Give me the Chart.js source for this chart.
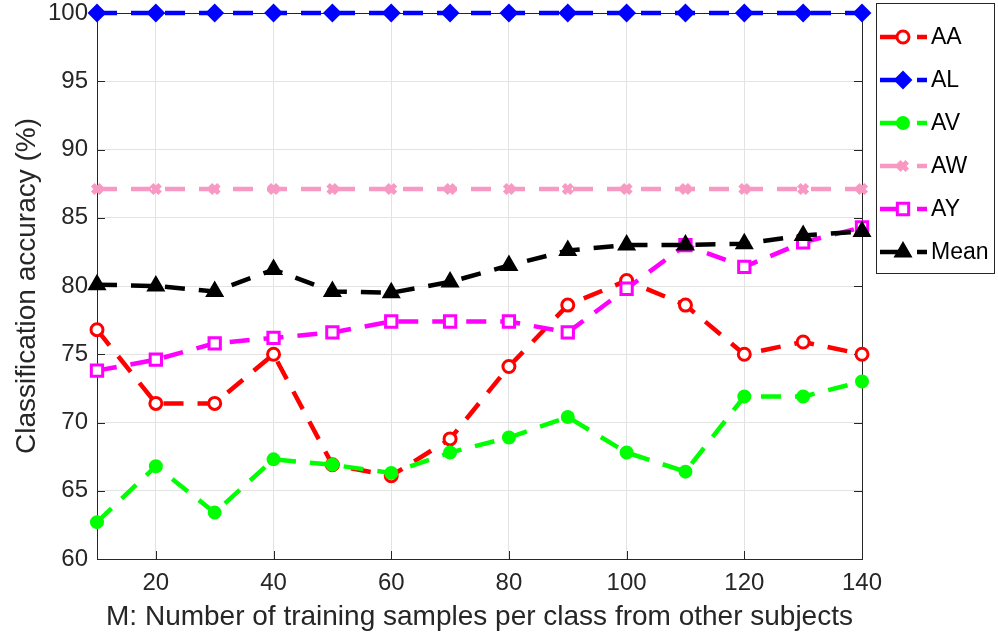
<!DOCTYPE html>
<html>
<head>
<meta charset="utf-8">
<script src="https://cdn.jsdelivr.net/npm/chart.js@4"></script>
<style>
  html, body { margin: 0; padding: 0; background: #fff; }
  #wrap { width: 998px; height: 642px; }
</style>
</head>
<body>
<div id="wrap"><canvas id="accChart" width="998" height="642"></canvas></div>
<script>
// x values (M)
const mValues = [10, 20, 30, 40, 50, 60, 70, 80, 90, 100, 110, 120, 130, 140];
const xTickValues = [20, 40, 60, 80, 100, 120, 140];

// accuracy per subject (%)
const accAA = [76.8, 71.4, 71.4, 75.0, 66.9, 66.1, 68.8, 74.1, 78.6, 80.4, 78.6, 75.0, 75.9, 75.0];
const accAL = [100, 100, 100, 100, 100, 100, 100, 100, 100, 100, 100, 100, 100, 100];
const accAV = [62.7, 66.8, 63.4, 67.3, 66.9, 66.3, 67.8, 68.9, 70.4, 67.8, 66.4, 71.9, 71.9, 73.0];
const accAW = [87.1, 87.1, 87.1, 87.1, 87.1, 87.1, 87.1, 87.1, 87.1, 87.1, 87.1, 87.1, 87.1, 87.1];
const accAY = [73.8, 74.6, 75.8, 76.2, 76.6, 77.4, 77.4, 77.4, 76.6, 79.8, 83.0, 81.4, 83.2, 84.3];
const accMean = [80.1, 80.0, 79.6, 81.2, 79.6, 79.5, 80.3, 81.5, 82.6, 83.0, 83.0, 83.1, 83.7, 84.0];

const textColor = '#262626';
const fontFamily = 'Arial, "Liberation Sans", Helvetica, sans-serif';
const dash = [20, 14];

function toPoints(vals) {
    return vals.map((v, i) => ({ x: mValues[i], y: v }));
}

function makeSet(label, vals, color, style, radius, fill, bw, order) {
    return {
        label: label,
        data: toPoints(vals),
        borderColor: color,
        borderWidth: 4.5,
        borderDash: dash,
        pointStyle: style,
        pointRadius: radius,
        pointBorderWidth: bw,
        pointBorderColor: color,
        pointBackgroundColor: fill,
        pointHoverRadius: radius,
        fill: false,
        tension: 0,
        clip: false,
        order: order
    };
}

const datasets = [
    makeSet('AA', accAA, '#ff0000', 'circle', 6, '#ffffff', 3, 6),
    makeSet('AL', accAL, '#0000ff', 'rectRot', 8, '#0000ff', 2, 5),
    makeSet('AV', accAV, '#00ff00', 'circle', 6, '#00ff00', 2, 4),
    makeSet('AW', accAW, '#f799c2', 'crossRot', 6, '#f799c2', 5, 3),
    makeSet('AY', accAY, '#ff00ff', 'rect', 8, '#ffffff', 3, 2),
    makeSet('Mean', accMean, '#000000', 'triangle', 9, '#000000', 2, 1)
];

// box, inner ticks and legend like the original figure
const framePlugin = {
    id: 'frame',
    beforeDatasetsDraw(chart) {
        const ctx = chart.ctx;
        const a = chart.chartArea;
        const xs = chart.scales.x, ys = chart.scales.y;
        ctx.save();
        ctx.strokeStyle = textColor;
        ctx.lineWidth = 1;
        ctx.setLineDash([]);
        ctx.strokeRect(a.left + 0.5, a.top + 0.5, a.right - a.left, a.bottom - a.top);
        // inner tick marks
        ctx.beginPath();
        xTickValues.forEach(v => {
            const px = Math.round(xs.getPixelForValue(v)) + 0.5;
            ctx.moveTo(px, a.bottom); ctx.lineTo(px, a.bottom - 8);
            ctx.moveTo(px, a.top); ctx.lineTo(px, a.top + 8);
        });
        ys.ticks.forEach(t => {
            const py = Math.round(ys.getPixelForValue(t.value)) + 0.5;
            ctx.moveTo(a.left, py); ctx.lineTo(a.left + 8, py);
            ctx.moveTo(a.right, py); ctx.lineTo(a.right - 8, py);
        });
        ctx.stroke();
        ctx.restore();
    },
    afterDatasetsDraw(chart) {
        const ctx = chart.ctx;
        ctx.save();
        // legend
        const lx = 876, ly = 3, lw = 118, lh = 270;
        ctx.fillStyle = '#ffffff';
        ctx.fillRect(lx, ly, lw, lh);
        ctx.strokeStyle = '#262626';
        ctx.lineWidth = 1;
        ctx.strokeRect(lx + 0.5, ly + 0.5, lw, lh);
        ctx.font = '23px ' + fontFamily;
        ctx.textBaseline = 'middle';
        ctx.textAlign = 'left';
        chart.data.datasets.forEach((ds, i) => {
            const y = 37 + i * 43;
            ctx.beginPath();
            ctx.strokeStyle = ds.borderColor;
            ctx.lineWidth = 4.5;
            ctx.setLineDash([24, 13]);
            ctx.moveTo(880, y);
            ctx.lineTo(927, y);
            ctx.stroke();
            ctx.setLineDash([]);
            ctx.strokeStyle = ds.pointBorderColor;
            ctx.fillStyle = ds.pointBackgroundColor;
            ctx.lineWidth = ds.pointBorderWidth;
            Chart.helpers.drawPoint(ctx, { pointStyle: ds.pointStyle, radius: ds.pointRadius, borderWidth: ds.pointBorderWidth }, 903, y);
            ctx.fillStyle = '#000000';
            ctx.fillText(ds.label, 931, y + 1);
        });
        ctx.restore();
    }
};

const ctx = document.getElementById('accChart').getContext('2d');
const chart = new Chart(ctx, {
    type: 'line',
    data: { datasets: datasets },
    options: {
        responsive: false,
        animation: false,
        layout: { padding: { left: 0, top: 13, right: 136, bottom: 0 } },
        plugins: {
            legend: { display: false },
            tooltip: { enabled: false }
        },
        scales: {
            x: {
                type: 'linear',
                min: 10,
                max: 140,
                afterBuildTicks: (scale) => {
                    scale.ticks = xTickValues.map(v => ({ value: v }));
                },
                afterFit: (scale) => {
                    scale.height = 83;
                    scale.paddingLeft = 0;
                    scale.paddingRight = 0;
                },
                grid: { color: '#e3e3e3', drawTicks: false },
                border: { display: false },
                ticks: {
                    color: textColor,
                    font: { size: 24, family: fontFamily },
                    padding: 10,
                    maxRotation: 0
                },
                title: {
                    display: true,
                    text: 'M: Number of training samples per class from other subjects',
                    color: textColor,
                    font: { size: 28, family: fontFamily },
                    padding: { top: 0, bottom: 8 }
                }
            },
            y: {
                min: 60,
                max: 100,
                afterFit: (scale) => {
                    scale.width = 97;
                    scale.paddingTop = 0;
                    scale.paddingBottom = 0;
                },
                grid: { color: '#e3e3e3', drawTicks: false },
                border: { display: false },
                ticks: {
                    stepSize: 5,
                    color: textColor,
                    font: { size: 24, family: fontFamily },
                    padding: 9
                },
                title: {
                    display: true,
                    text: 'Classification accuracy (%)',
                    color: textColor,
                    font: { size: 28, family: fontFamily },
                    padding: { top: 10, bottom: 0 }
                }
            }
        }
    },
    plugins: [framePlugin]
});
</script>
</body>
</html>
